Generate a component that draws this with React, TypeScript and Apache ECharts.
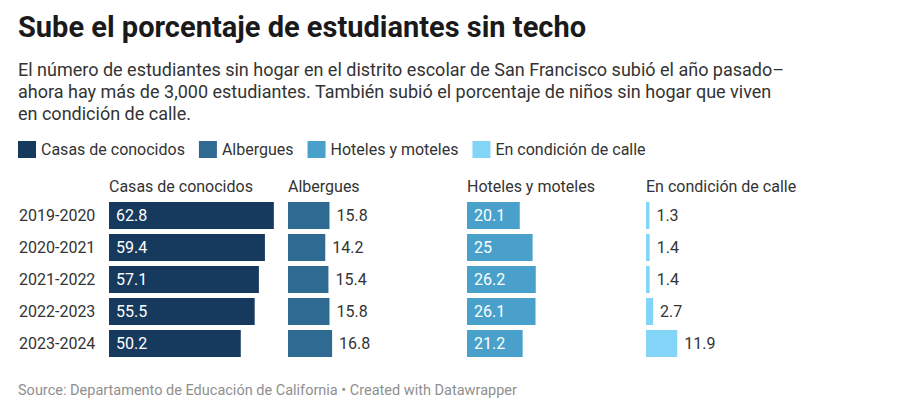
import React, { useEffect, useRef } from "react";
import * as echarts from "echarts";

const years = ["2019-2020", "2020-2021", "2021-2022", "2022-2023", "2023-2024"];
const seriesNames = ["Casas de conocidos", "Albergues", "Hoteles y moteles", "En condición de calle"];
const casas = [62.8, 59.4, 57.1, 55.5, 50.2];
const albergues = [15.8, 14.2, 15.4, 15.8, 16.8];
const hoteles = [20.1, 25, 26.2, 26.1, 21.2];
const calle = [1.3, 1.4, 1.4, 2.7, 11.9];
const seriesValues = [casas, albergues, hoteles, calle];
const colors = ["#163a5e", "#2e6a92", "#49a1cb", "#83d5f8"];
const labelInside = [true, false, true, false];

const titleText = "Sube el porcentaje de estudiantes sin techo";
const subtitleText =
  "El número de estudiantes sin hogar en el distrito escolar de San Francisco subió el año pasado–\n" +
  "ahora hay más de 3,000 estudiantes. También subió el porcentaje de niños sin hogar que viven\n" +
  "en condición de calle.";
const footerText = "Source: Departamento de Educación de California • Created with Datawrapper";

const FONT = "Roboto";

export default function App() {
  const ref = useRef<HTMLDivElement>(null);
  useEffect(() => {
    if (!ref.current) return;
    const chart = echarts.init(ref.current, undefined, { renderer: "svg" });
    const gridLeft0 = 109;
    const gridStep = 179;
    const gridWidth = 168;
    const gridTop = 199.5;
    const gridHeight = 160;
    const grids = seriesNames.map((_, i) => ({
      left: gridLeft0 + i * gridStep,
      top: gridTop,
      width: gridWidth,
      height: gridHeight,
      containLabel: false,
    }));
    const xAxes = seriesNames.map((_, i) => ({
      type: "value",
      gridIndex: i,
      min: 0,
      max: 64,
      show: false,
    }));
    const yAxes = seriesNames.map((_, i) => ({
      type: "category",
      gridIndex: i,
      data: years,
      inverse: true,
      axisLine: { show: false },
      axisTick: { show: false },
      splitLine: { show: false },
      axisLabel: {
        show: i === 0,
        align: "left",
        margin: 90,
        fontFamily: FONT,
        fontSize: 16,
        color: "#333333",
      },
    }));
    const series = seriesNames.map((name, i) => ({
      type: "bar",
      name,
      xAxisIndex: i,
      yAxisIndex: i,
      data: seriesValues[i],
      barWidth: 27,
      itemStyle: { color: colors[i] },
      label: {
        show: true,
        position: labelInside[i] ? "insideLeft" : "right",
        distance: 7,
        fontFamily: FONT,
        fontSize: 16,
        color: labelInside[i] ? "#ffffff" : "#333333",
      },
    }));
    const headers = seriesNames.map((name, i) => ({
      type: "text",
      left: gridLeft0 + i * gridStep,
      top: 178,
      style: { text: name, font: `16px ${FONT}`, fill: "#333333" },
    }));
    chart.setOption({
      animation: false,
      backgroundColor: "#ffffff",
      title: [
        {
          text: titleText,
          left: 18,
          top: 12,
          padding: 0,
          textStyle: { fontFamily: FONT, fontWeight: "bold", fontSize: 29, color: "#1a1a1a" },
        },
        {
          text: subtitleText,
          left: 18,
          top: 58,
          padding: 0,
          textStyle: { fontFamily: FONT, fontWeight: "normal", fontSize: 18, lineHeight: 22, color: "#333333" },
        },
        {
          text: footerText,
          left: 18,
          top: 383,
          padding: 0,
          textStyle: { fontFamily: FONT, fontWeight: "normal", fontSize: 14.5, color: "#8f8f8f" },
        },
      ],
      legend: {
        data: seriesNames,
        left: 18,
        top: 141,
        padding: 0,
        icon: "rect",
        itemWidth: 18,
        itemHeight: 17,
        itemGap: 14,
        selectedMode: false,
        textStyle: { fontFamily: FONT, fontSize: 16, color: "#333333" },
      },
      grid: grids,
      xAxis: xAxes,
      yAxis: yAxes,
      series,
      graphic: headers,
    });
    return () => chart.dispose();
  }, []);
  return (
    <div
      ref={ref}
      style={{ position: "fixed", left: 0, top: 0, width: 900, height: 418, background: "#fff" }}
    />
  );
}
